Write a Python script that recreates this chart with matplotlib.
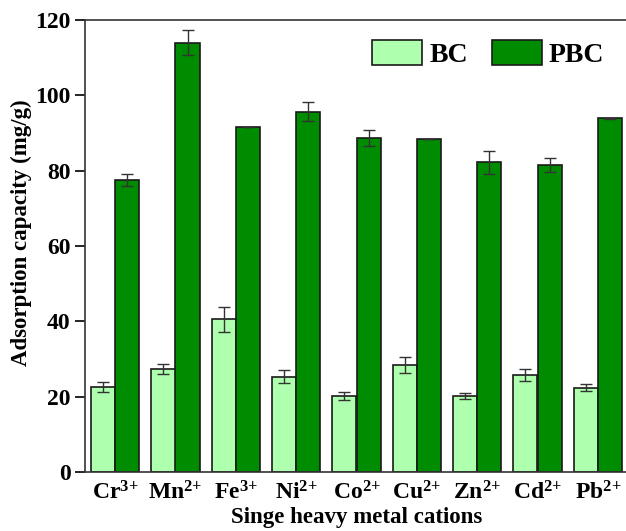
import matplotlib
matplotlib.use("Agg")
import matplotlib.pyplot as plt
import numpy as np

plt.rcParams['font.family'] = ['Liberation Serif', 'DejaVu Serif']
plt.rcParams['font.weight'] = 'bold'
plt.rcParams['mathtext.fontset'] = 'custom'
plt.rcParams['mathtext.rm'] = 'Liberation Serif:bold'
plt.rcParams['mathtext.bf'] = 'Liberation Serif:bold'
plt.rcParams['mathtext.default'] = 'bf'

# cations and their charges
cations = ['Cr', 'Mn', 'Fe', 'Ni', 'Co', 'Cu', 'Zn', 'Cd', 'Pb']
charges = ['3', '2', '3', '2', '2', '2', '2', '2', '2']

bc = [22.6, 27.4, 40.5, 25.3, 20.2, 28.3, 20.3, 25.7, 22.4]
bc_err = [1.3, 1.4, 3.3, 1.8, 1.0, 2.1, 0.8, 1.6, 1.0]
pbc = [77.5, 114.0, 91.7, 95.7, 88.6, 88.5, 82.2, 81.5, 93.9]
pbc_err = [1.6, 3.4, 0.0, 2.6, 2.1, 0.0, 3.0, 1.9, 0.2]

labels = [c + '$^{' + q + '{+}}$' for c, q in zip(cations, charges)]

fig = plt.figure(figsize=(6.26, 5.31), dpi=100)
ax = fig.add_axes([85/626, 59/531, 543/626, 452/531])

x = np.arange(len(cations))
w = 0.4
ekw = dict(ecolor='#333333', elinewidth=1, capsize=4, capthick=1)
ax.bar(x - w/2, bc, w, yerr=bc_err, color='#aeffae', edgecolor='#1a1a1a',
       linewidth=1.2, error_kw=ekw, label='BC')
ax.bar(x + w/2, pbc, w, yerr=pbc_err, color='#008c00', edgecolor='#1a1a1a',
       linewidth=1.2, error_kw=ekw, label='PBC')

ax.set_xlim(-0.5, 8.5)
ax.set_ylim(0, 120)
ax.set_yticks([0, 20, 40, 60, 80, 100, 120])
ax.set_xticks(x)
ax.set_xticklabels(labels, fontsize=17, fontweight='bold')
ax.tick_params(axis='y', labelsize=17, direction='out', length=7, width=1.2)
ax.tick_params(axis='x', length=0, pad=7)
for s in ax.spines.values():
    s.set_linewidth(1.2)
    s.set_color('#333333')

ax.set_ylabel('Adsorption capacity (mg/g)', fontsize=16.5, fontweight='bold')
ax.yaxis.set_label_coords(-0.097, 0.53)
ax.set_xlabel('Singe heavy metal cations', fontsize=16.5, fontweight='bold', labelpad=1.5)

ax.legend(loc='upper right', bbox_to_anchor=(1.002, 1.01), ncol=2, frameon=False,
          prop={'size': 20, 'weight': 'bold'}, handlelength=1.8, handleheight=1.0,
          columnspacing=0.85, handletextpad=0.25)

fig.savefig('out.png', dpi=100)
